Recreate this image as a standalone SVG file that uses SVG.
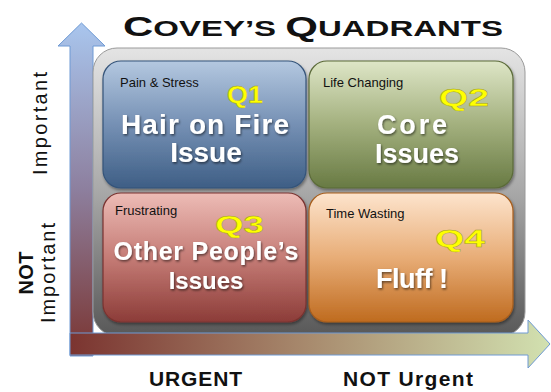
<svg xmlns="http://www.w3.org/2000/svg" width="551" height="392" viewBox="0 0 551 392">
<defs>
<linearGradient id="gV" x1="0" y1="0" x2="0" y2="1"><stop offset="0" stop-color="#a9c6ee"/><stop offset="0.5" stop-color="#8d7f9e"/><stop offset="1" stop-color="#7a3430"/></linearGradient>
<linearGradient id="gH" x1="0" y1="0" x2="1" y2="0"><stop offset="0" stop-color="#7b3430"/><stop offset="0.5" stop-color="#a88b6e"/><stop offset="1" stop-color="#d2e1b0"/></linearGradient>
<linearGradient id="gP" x1="0" y1="0" x2="0" y2="1"><stop offset="0" stop-color="#e4e4e4"/><stop offset="0.5" stop-color="#a8a8a8"/><stop offset="1" stop-color="#585858"/></linearGradient>
<linearGradient id="g1" x1="0" y1="0" x2="0" y2="1"><stop offset="0" stop-color="#b4c8e0"/><stop offset="0.5" stop-color="#7590b4"/><stop offset="1" stop-color="#3e5e85"/></linearGradient>
<linearGradient id="g2" x1="0" y1="0" x2="0" y2="1"><stop offset="0" stop-color="#dee6c7"/><stop offset="0.5" stop-color="#a3b07e"/><stop offset="1" stop-color="#687a43"/></linearGradient>
<linearGradient id="g3" x1="0" y1="0" x2="0" y2="1"><stop offset="0" stop-color="#edbcb6"/><stop offset="0.5" stop-color="#c57c76"/><stop offset="1" stop-color="#8c3c38"/></linearGradient>
<linearGradient id="g4" x1="0" y1="0" x2="0" y2="1"><stop offset="0" stop-color="#fde4cd"/><stop offset="0.5" stop-color="#e8ad77"/><stop offset="1" stop-color="#bf6b1f"/></linearGradient>
<filter id="ts" x="-10%" y="-20%" width="130%" height="150%"><feDropShadow dx="1" dy="1.5" stdDeviation="0.8" flood-color="#000" flood-opacity="0.55"/></filter>
<filter id="bs" x="-5%" y="-5%" width="112%" height="115%"><feDropShadow dx="1" dy="2" stdDeviation="1.5" flood-color="#000" flood-opacity="0.4"/></filter>
</defs>
<style>
.box{stroke-width:1.2}
.lbl{font-family:"Liberation Sans",Arial,sans-serif;font-size:13px;fill:#111}
.q{font-family:"Liberation Sans",Arial,sans-serif;font-weight:bold;font-size:23px;fill:#ffff00;stroke:#9a9a30;stroke-width:0.4}
.big{font-family:"Liberation Sans",Arial,sans-serif;font-weight:bold;fill:#fff;text-anchor:middle}
.ax{font-family:"Liberation Sans",Arial,sans-serif;font-size:20px;fill:#111;text-anchor:middle}
.bx{font-family:"Liberation Sans",Arial,sans-serif;font-weight:bold;font-size:21px;fill:#111;text-anchor:middle}
.title{font-family:"Liberation Sans",Arial,sans-serif;font-weight:bold;fill:#111}
</style>
<rect width="551" height="392" fill="#fff"/>
<g id="title">
<text class="title" x="123" y="35.5" textLength="380" lengthAdjust="spacingAndGlyphs"><tspan font-size="28">C</tspan><tspan font-size="22">OVEY’S </tspan><tspan font-size="28">Q</tspan><tspan font-size="22">UADRANTS</tspan></text>
</g>
<g id="connectors">
<polygon id="axis-v" points="81.5,23 105,46 93,46 93,356 70,356 70,46 58,46" fill="url(#gV)" stroke="#6e9ad4" stroke-width="1"/>
</g>
<g id="panel">
<rect x="93" y="48" width="432" height="288" rx="24" fill="url(#gP)" stroke="#9a9a9a" stroke-width="1"/>
</g>
<g id="q1">
<rect class="box" x="103" y="61" width="203" height="127" rx="18" fill="url(#g1)" stroke="#35547a" filter="url(#bs)"/>
<text class="lbl" x="120" y="87">Pain &amp; Stress</text>
<text class="q" x="227" y="103" textLength="36" lengthAdjust="spacingAndGlyphs">Q1</text>
<g filter="url(#ts)">
<text class="big" x="205" y="134" font-size="28" textLength="168">Hair on Fire</text>
<text class="big" x="206" y="162" font-size="28">Issue</text>
</g>
</g>
<g id="q2">
<rect class="box" x="309" y="61" width="204" height="127" rx="18" fill="url(#g2)" stroke="#5b6b39" filter="url(#bs)"/>
<text class="lbl" x="323" y="87">Life Changing</text>
<text class="q" x="439" y="106" textLength="50" lengthAdjust="spacingAndGlyphs">Q2</text>
<g filter="url(#ts)">
<text class="big" x="412" y="134" font-size="27" textLength="70">Core</text>
<text class="big" x="417" y="163" font-size="27">Issues</text>
</g>
</g>
<g id="q3">
<rect class="box" x="103" y="193" width="203" height="129" rx="18" fill="url(#g3)" stroke="#7a3330" filter="url(#bs)"/>
<text class="lbl" x="115" y="215">Frustrating</text>
<text class="q" x="215" y="233" textLength="49" lengthAdjust="spacingAndGlyphs">Q3</text>
<g filter="url(#ts)">
<text class="big" x="206" y="260" font-size="25" textLength="185">Other People’s</text>
<text class="big" x="206" y="289" font-size="24">Issues</text>
</g>
</g>
<g id="q4">
<rect class="box" x="309" y="193" width="204" height="129" rx="18" fill="url(#g4)" stroke="#a85e1c" filter="url(#bs)"/>
<text class="lbl" x="326" y="218">Time Wasting</text>
<text class="q" x="435" y="247" textLength="50" lengthAdjust="spacingAndGlyphs">Q4</text>
<g filter="url(#ts)">
<text class="big" x="412" y="288" font-size="27" textLength="72">Fluff !</text>
</g>
</g>
<g id="connectors-h">
<polygon id="axis-h" points="70,333 528,333 528,320 550,344 528,368 528,355 70,355" fill="url(#gH)" stroke="#6e9ad4" stroke-width="1"/>
</g>
<g id="labels">
<text class="ax" transform="translate(47,123.5) rotate(-90)" textLength="103">Important</text>
<text class="ax" transform="translate(33,273) rotate(-90)" font-weight="bold" textLength="43">NOT</text>
<text class="ax" transform="translate(55,273) rotate(-90)" textLength="100">Important</text>
<text class="bx" x="195.5" y="386" textLength="93">URGENT</text>
<text class="bx" x="408" y="386" textLength="130">NOT Urgent</text>
</g>
</svg>
